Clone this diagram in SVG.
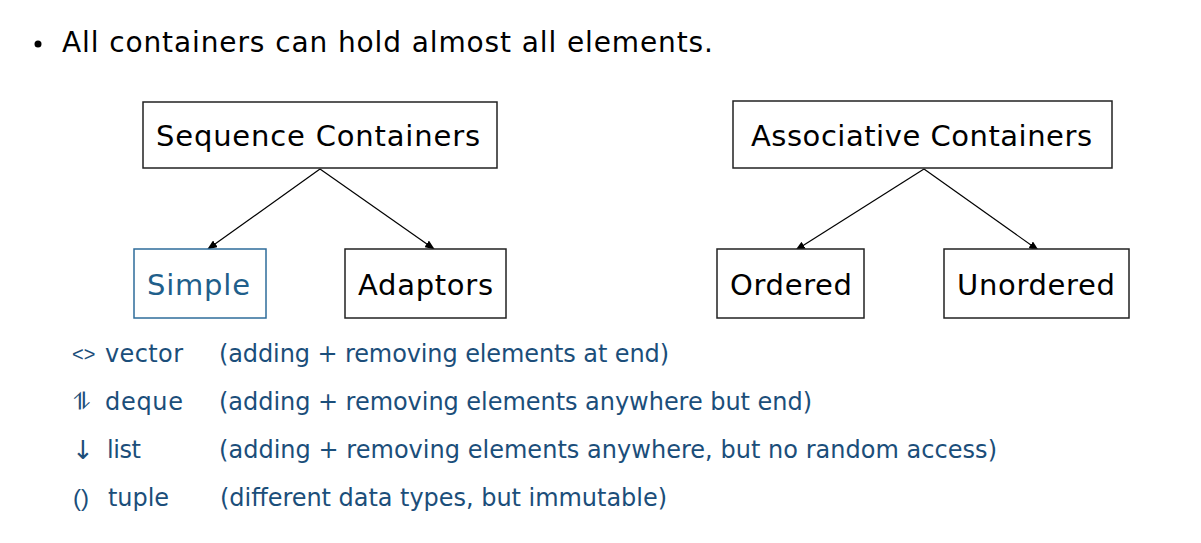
<svg xmlns="http://www.w3.org/2000/svg" width="1201" height="543" viewBox="0 0 1201 543">
<defs>
<style>
text{font-family:"DejaVu Sans","Liberation Sans",sans-serif;}
.t{font-size:28px;fill:#000;}
.n{font-size:29px;fill:#000;}
.box{fill:#fff;stroke:#222;stroke-width:1.5;}
.sbox{fill:#fff;stroke:#2e6c9a;stroke-width:1.5;}
.e{stroke:#000;stroke-width:1.2;fill:none;marker-end:url(#ah);}
.r{font-size:24px;fill:#1b4e7a;}
.s{font-family:"Liberation Sans",sans-serif;font-size:20px;fill:#1b4e7a;}
</style>
<marker id="ah" markerWidth="10" markerHeight="8" refX="9" refY="4" orient="auto" markerUnits="userSpaceOnUse">
<path d="M0,0 L10,4 L0,8 z" fill="#000"/>
</marker>
</defs>
<rect width="1201" height="543" fill="#fff"/>
<g id="title">
<circle cx="38" cy="44" r="3.5" fill="#000"/>
<text class="t" x="62" y="52" textLength="651">All containers can hold almost all elements.</text>
</g>
<g id="connectors">
<line class="e" x1="320" y1="169" x2="208" y2="249"/>
<line class="e" x1="320" y1="169" x2="434" y2="249"/>
<line class="e" x1="924" y1="169" x2="796" y2="250"/>
<line class="e" x1="924" y1="169" x2="1038" y2="250"/>
</g>
<g id="seq">
<rect class="box" x="143" y="102" width="354" height="66"/>
<text class="n" x="156" y="146" textLength="324">Sequence Containers</text>
</g>
<g id="assoc">
<rect class="box" x="733" y="101" width="379" height="67"/>
<text class="n" x="751" y="146" textLength="341">Associative Containers</text>
</g>
<g id="simple">
<rect class="sbox" x="134" y="249" width="132" height="69"/>
<text class="n" x="147" y="295" textLength="103" style="fill:#1f5f8b">Simple</text>
</g>
<g id="adaptors">
<rect class="box" x="345" y="249" width="161" height="69"/>
<text class="n" x="358" y="295" textLength="135">Adaptors</text>
</g>
<g id="ordered">
<rect class="box" x="717" y="249" width="147" height="69"/>
<text class="n" x="730" y="295" textLength="122">Ordered</text>
</g>
<g id="unordered">
<rect class="box" x="944" y="249" width="185" height="69"/>
<text class="n" x="957" y="295" textLength="158">Unordered</text>
</g>
<g id="list">
<text class="s" x="72" y="361">&lt;&gt;</text>
<text class="r" x="105" y="362" textLength="78">vector</text>
<text class="r" x="219" y="362" textLength="450">(adding + removing elements at end)</text>
<text class="r" x="73" y="410">⥮</text>
<text class="r" x="105" y="410" textLength="78">deque</text>
<text class="r" x="219" y="410" textLength="593">(adding + removing elements anywhere but end)</text>
<text class="r" x="72" y="459" style="font-size:26px">↓</text>
<text class="r" x="107" y="458" textLength="34">list</text>
<text class="r" x="219" y="458" textLength="778">(adding + removing elements anywhere, but no random access)</text>
<text class="r" x="73" y="506" style="font-family:'Liberation Sans',sans-serif">()</text>
<text class="r" x="108" y="506" textLength="61">tuple</text>
<text class="r" x="220" y="506" textLength="447">(different data types, but immutable)</text>
</g>
</svg>
